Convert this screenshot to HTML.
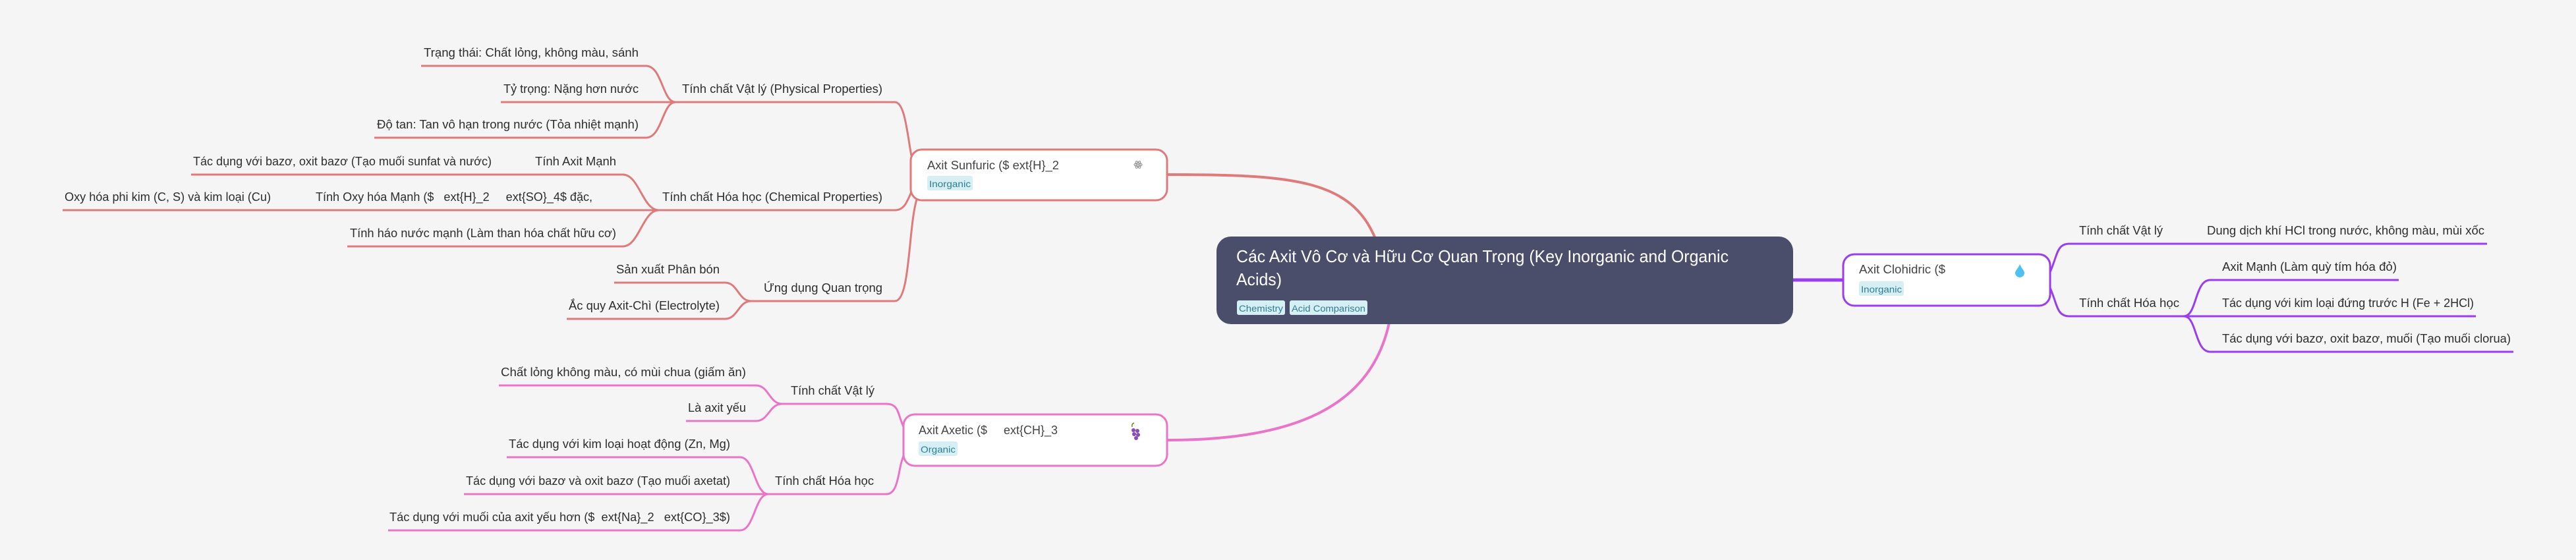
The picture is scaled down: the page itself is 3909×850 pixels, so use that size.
<!DOCTYPE html>
<html><head><meta charset="utf-8">
<style>
html,body{margin:0;padding:0;background:#f5f5f5;}
svg{display:block;}
text{font-family:"Liberation Sans","Noto Sans CJK SC",sans-serif;white-space:pre;}
.t{font-size:18px;fill:#2d2d2d;}
.n{font-size:18px;fill:#444;}
.tag{font-size:14px;fill:#2f7d8f;}
</style></head>
<body>
<svg width="3909" height="850" viewBox="0 0 3909 850" xmlns="http://www.w3.org/2000/svg" xml:space="preserve">
<rect width="3909" height="850" fill="#f5f5f5"/>

<path d="M1772,265 C1960,265 2050,272 2087,362" fill="none" stroke="#df7a7a" stroke-width="4"/>
<path d="M1772,668 C1960,668 2080,620 2108,490" fill="none" stroke="#ea75c8" stroke-width="4"/>
<path d="M2718,425 L2798,425" fill="none" stroke="#9a3cf0" stroke-width="5"/>

<g fill="none" stroke="#df7a7a" stroke-width="3">
<path d="M1390,260 C1378,240 1378,155 1358,155 L1025,155"/>
<path d="M1386,285 C1378,300 1375,319 1358,319 L95,319"/>
<path d="M1392,300 C1378,340 1382,457 1358,457 L1140,457"/>
<path d="M639,100 L980,100 C1005,100 1005,155 1025,155"/>
<path d="M760,155 L1025,155"/>
<path d="M568,209 L980,209 C1005,209 1005,155 1025,155"/>
<path d="M290,265 L945,265 C970,265 975,319 1000,319"/>
<path d="M527,374 L945,374 C970,374 975,319 1000,319"/>
<path d="M932,429 L1100,429 C1120,429 1120,457 1140,457"/>
<path d="M860,484 L1100,484 C1120,484 1120,457 1140,457"/>
</g>

<g fill="none" stroke="#9a3cf0" stroke-width="3">
<path d="M3110,415 C3122,390 3120,370 3140,370 L3774,370"/>
<path d="M3110,435 C3122,460 3120,480 3140,480 L3757,480"/>
<path d="M3314,480 C3334,480 3330,425 3354,425 L3640,425"/>
<path d="M3314,480 C3334,480 3330,534 3354,534 L3814,534"/>
</g>

<g fill="none" stroke="#ea75c8" stroke-width="3">
<path d="M1372,650 C1362,630 1365,613 1345,613 L1187,613"/>
<path d="M1372,690 C1362,710 1365,750 1345,750 L704,750"/>
<path d="M757,585 L1147,585 C1167,585 1167,613 1187,613"/>
<path d="M1041,639 L1147,639 C1167,639 1167,613 1187,613"/>
<path d="M769,694 L1123,694 C1145,694 1145,750 1166,750"/>
<path d="M589,805 L1123,805 C1145,805 1145,750 1166,750"/>
</g>

<rect x="1846" y="359" width="875" height="133" rx="22" fill="#4b4e6a"/>
<text x="1876" y="398" style="font-size:26px;fill:#fff" textLength="747" lengthAdjust="spacingAndGlyphs">Các Axit Vô Cơ và Hữu Cơ Quan Trọng (Key Inorganic and Organic</text>
<text x="1876" y="433" style="font-size:26px;fill:#fff" textLength="69" lengthAdjust="spacingAndGlyphs">Acids)</text>
<rect x="1877" y="456" width="73" height="22" rx="3" fill="#d5eff5"/>
<text x="1880" y="473" class="tag" textLength="67" lengthAdjust="spacingAndGlyphs">Chemistry</text>
<rect x="1957" y="456" width="118" height="22" rx="3" fill="#d5eff5"/>
<text x="1960" y="473" class="tag" textLength="112" lengthAdjust="spacingAndGlyphs">Acid Comparison</text>

<rect x="1382" y="227" width="389" height="77" rx="17" fill="#fff" stroke="#df7a7a" stroke-width="3"/>
<text x="1407" y="257" class="n" textLength="200" lengthAdjust="spacingAndGlyphs">Axit Sunfuric ($ ext{H}_2</text>
<rect x="1407" y="267" width="69" height="22" rx="3" fill="#d5eff5"/>
<text x="1410" y="284" class="tag" textLength="63" lengthAdjust="spacingAndGlyphs">Inorganic</text>
<g fill="none" stroke="#999" stroke-width="1.2">
<ellipse cx="1727" cy="250" rx="6" ry="2.5"/>
<ellipse cx="1727" cy="250" rx="6" ry="2.5" transform="rotate(60 1727 250)"/>
<ellipse cx="1727" cy="250" rx="6" ry="2.5" transform="rotate(-60 1727 250)"/>
</g>
<circle cx="1727" cy="250" r="1.3" fill="#999"/>

<rect x="2797" y="386" width="314" height="78" rx="17" fill="#fff" stroke="#9a3cf0" stroke-width="3"/>
<text x="2821" y="415" class="n" textLength="131" lengthAdjust="spacingAndGlyphs">Axit Clohidric ($</text>
<rect x="2821" y="427" width="68" height="22" rx="3" fill="#d5eff5"/>
<text x="2824" y="444" class="tag" textLength="62" lengthAdjust="spacingAndGlyphs">Inorganic</text>
<path d="M3065,401 C3062,408 3058,411 3058,414 A7,7 0 0 0 3072,414 C3072,411 3068,408 3065,401 Z" fill="#4fc1f0"/>

<rect x="1371" y="629" width="400" height="78" rx="17" fill="#fff" stroke="#ea75c8" stroke-width="3"/>
<text x="1394" y="659" class="n" textLength="211" lengthAdjust="spacingAndGlyphs">Axit Axetic ($     ext{CH}_3</text>
<rect x="1394" y="670" width="59" height="22" rx="3" fill="#d5eff5"/>
<text x="1397" y="687" class="tag" textLength="53" lengthAdjust="spacingAndGlyphs">Organic</text>
<path d="M1718,648 q-1,-5 3,-6" stroke="#6a8a2a" stroke-width="1.5" fill="none"/>
<g fill="#8b4cb8">
<circle cx="1720" cy="653" r="3"/><circle cx="1726" cy="654" r="3"/>
<circle cx="1721" cy="659" r="3"/><circle cx="1727" cy="660" r="3"/>
<circle cx="1724" cy="665" r="3"/>
</g>

<text x="1035" y="141" class="t" textLength="304" lengthAdjust="spacingAndGlyphs">Tính chất Vật lý (Physical Properties)</text>
<text x="643" y="86" class="t" textLength="326" lengthAdjust="spacingAndGlyphs">Trạng thái: Chất lỏng, không màu, sánh</text>
<text x="764" y="141" class="t" textLength="205" lengthAdjust="spacingAndGlyphs">Tỷ trọng: Nặng hơn nước</text>
<text x="572" y="195" class="t" textLength="397" lengthAdjust="spacingAndGlyphs">Độ tan: Tan vô hạn trong nước (Tỏa nhiệt mạnh)</text>
<text x="1005" y="305" class="t" textLength="334" lengthAdjust="spacingAndGlyphs">Tính chất Hóa học (Chemical Properties)</text>
<text x="812" y="251" class="t" textLength="123" lengthAdjust="spacingAndGlyphs">Tính Axit Mạnh</text>
<text x="293" y="251" class="t" textLength="453" lengthAdjust="spacingAndGlyphs">Tác dụng với bazơ, oxit bazơ (Tạo muối sunfat và nước)</text>
<text x="479" y="305" class="t" textLength="420" lengthAdjust="spacingAndGlyphs">Tính Oxy hóa Mạnh ($   ext{H}_2     ext{SO}_4$ đặc,</text>
<text x="98" y="305" class="t" textLength="313" lengthAdjust="spacingAndGlyphs">Oxy hóa phi kim (C, S) và kim loại (Cu)</text>
<text x="531" y="360" class="t" textLength="404" lengthAdjust="spacingAndGlyphs">Tính háo nước mạnh (Làm than hóa chất hữu cơ)</text>
<text x="1159" y="443" class="t" textLength="180" lengthAdjust="spacingAndGlyphs">Ứng dụng Quan trọng</text>
<text x="935" y="415" class="t" textLength="157" lengthAdjust="spacingAndGlyphs">Sản xuất Phân bón</text>
<text x="863" y="470" class="t" textLength="229" lengthAdjust="spacingAndGlyphs">Ắc quy Axit-Chì (Electrolyte)</text>

<text x="3155" y="356" class="t" textLength="127" lengthAdjust="spacingAndGlyphs">Tính chất Vật lý</text>
<text x="3349" y="356" class="t" textLength="421" lengthAdjust="spacingAndGlyphs">Dung dịch khí HCl trong nước, không màu, mùi xốc</text>
<text x="3155" y="466" class="t" textLength="152" lengthAdjust="spacingAndGlyphs">Tính chất Hóa học</text>
<text x="3372" y="411" class="t" textLength="265" lengthAdjust="spacingAndGlyphs">Axit Mạnh (Làm quỳ tím hóa đỏ)</text>
<text x="3372" y="466" class="t" textLength="382" lengthAdjust="spacingAndGlyphs">Tác dụng với kim loại đứng trước H (Fe + 2HCl)</text>
<text x="3372" y="520" class="t" textLength="438" lengthAdjust="spacingAndGlyphs">Tác dụng với bazơ, oxit bazơ, muối (Tạo muối clorua)</text>

<text x="1200" y="599" class="t" textLength="127" lengthAdjust="spacingAndGlyphs">Tính chất Vật lý</text>
<text x="760" y="571" class="t" textLength="372" lengthAdjust="spacingAndGlyphs">Chất lỏng không màu, có mùi chua (giấm ăn)</text>
<text x="1044" y="625" class="t" textLength="88" lengthAdjust="spacingAndGlyphs">Là axit yếu</text>
<text x="1176" y="736" class="t" textLength="150" lengthAdjust="spacingAndGlyphs">Tính chất Hóa học</text>
<text x="772" y="680" class="t" textLength="336" lengthAdjust="spacingAndGlyphs">Tác dụng với kim loại hoạt động (Zn, Mg)</text>
<text x="707" y="736" class="t" textLength="401" lengthAdjust="spacingAndGlyphs">Tác dụng với bazơ và oxit bazơ (Tạo muối axetat)</text>
<text x="591" y="791" class="t" textLength="517" lengthAdjust="spacingAndGlyphs">Tác dụng với muối của axit yếu hơn ($  ext{Na}_2   ext{CO}_3$)</text>
</svg>
</body></html>
